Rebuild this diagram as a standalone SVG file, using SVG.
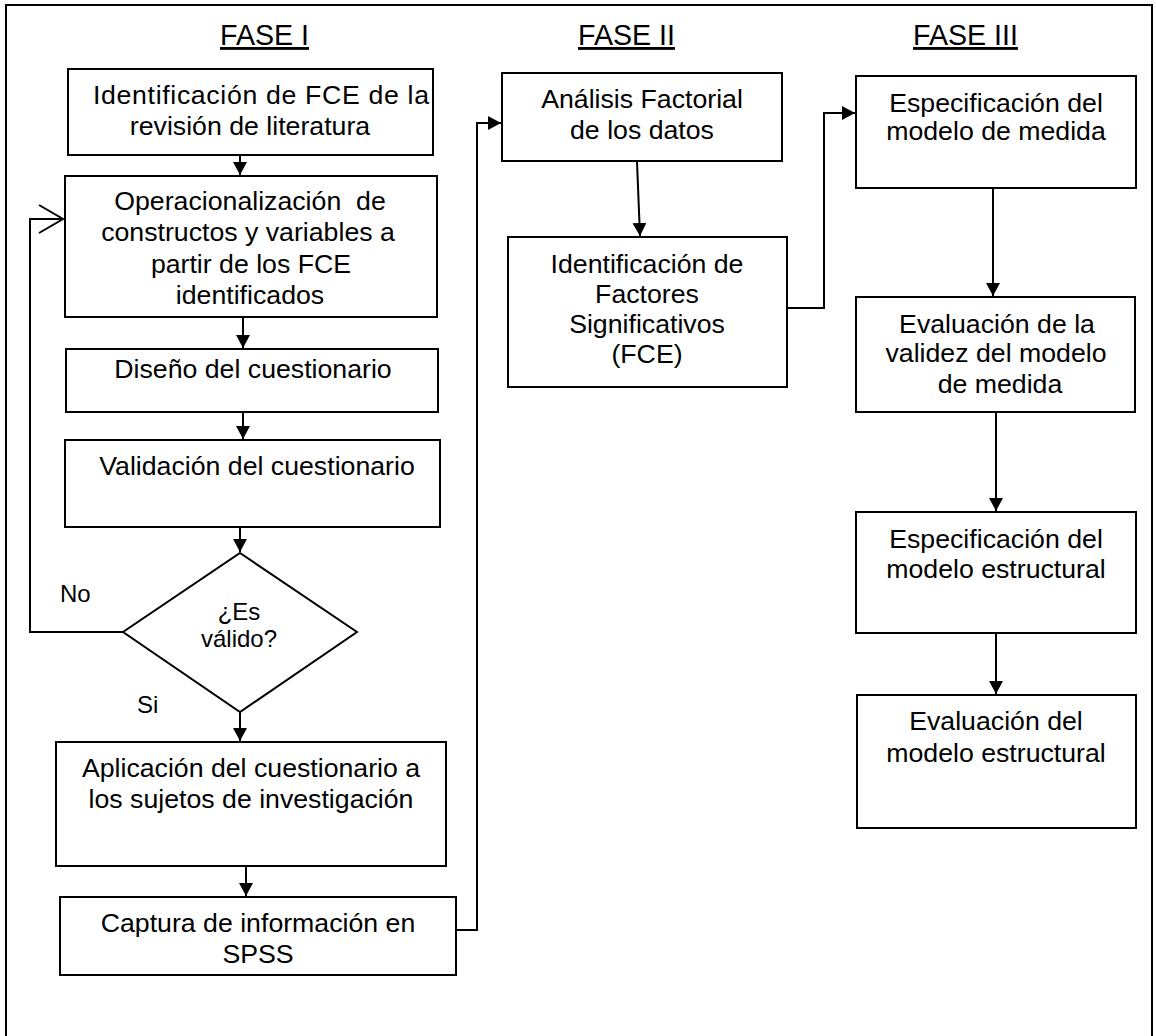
<svg xmlns="http://www.w3.org/2000/svg" width="1156" height="1036" viewBox="0 0 1156 1036">
<defs>
<marker id="ah" markerWidth="14" markerHeight="14" refX="13" refY="7" orient="auto" markerUnits="userSpaceOnUse">
<path d="M0,0 L13,7 L0,14 Z" fill="#000"/>
</marker>
<style>
.box{fill:#fff;stroke:#000;stroke-width:2}
.t{font-family:"Liberation Sans",Arial,sans-serif;font-size:26.7px;fill:#000;text-anchor:middle}
.h{font-family:"Liberation Sans",Arial,sans-serif;font-size:28.6px;fill:#000;text-decoration:underline}
.s{font-family:"Liberation Sans",Arial,sans-serif;font-size:24px;fill:#000}
.c{fill:none;stroke:#000;stroke-width:2}
</style>
</defs>
<rect width="1156" height="1036" fill="#fff"/>
<path d="M6,1036 V5 H1152 V1036" fill="none" stroke="#000" stroke-width="2"/>
<g id="titles">
<text class="h" x="220" y="45">FASE I</text>
<text class="h" x="578" y="45">FASE II</text>
<text class="h" x="913" y="45">FASE III</text>
</g>
<g id="connectors">
<path class="c" d="M240,156 V175" marker-end="url(#ah)"/>
<path class="c" d="M243,317 V348" marker-end="url(#ah)"/>
<path class="c" d="M243,412 V439" marker-end="url(#ah)"/>
<path class="c" d="M240,527 V552" marker-end="url(#ah)"/>
<path class="c" d="M123,632 H30 V219 H63"/>
<path class="c" d="M39,205 L63,219 L39,233"/>
<path class="c" d="M240,712 V741" marker-end="url(#ah)"/>
<path class="c" d="M246,866 V896" marker-end="url(#ah)"/>
<path class="c" d="M456,930 H477 V123 H501" marker-end="url(#ah)"/>
<path class="c" d="M637,162 L640,236" marker-end="url(#ah)"/>
<path class="c" d="M787,308 H824 V113 H855" marker-end="url(#ah)"/>
<path class="c" d="M993,188 V296" marker-end="url(#ah)"/>
<path class="c" d="M996,412 V511" marker-end="url(#ah)"/>
<path class="c" d="M996,633 V694" marker-end="url(#ah)"/>
<text class="s" x="60" y="602">No</text>
<text class="s" x="137" y="713">Si</text>
</g>
<g id="n1">
<rect class="box" x="68" y="69" width="365" height="86"/>
<text class="t" x="261" y="104" textLength="336" lengthAdjust="spacing">Identificación de FCE de la</text>
<text class="t" x="250" y="135">revisión de literatura</text>
</g>
<g id="n2">
<rect class="box" x="65" y="176" width="372" height="141"/>
<text class="t" x="250" y="210" xml:space="preserve">Operacionalización  de</text>
<text class="t" x="248" y="241">constructos y variables a</text>
<text class="t" x="251" y="273">partir de los FCE</text>
<text class="t" x="250" y="304">identificados</text>
</g>
<g id="n3">
<rect class="box" x="66" y="349" width="372" height="63"/>
<text class="t" x="253" y="378">Diseño del cuestionario</text>
</g>
<g id="n4">
<rect class="box" x="65" y="440" width="375" height="87"/>
<text class="t" x="257" y="475">Validación del cuestionario</text>
</g>
<g id="n5">
<polygon class="box" points="240,553 357,632 240,712 123,632"/>
<text class="s" x="239" y="620" text-anchor="middle">¿Es</text>
<text class="s" x="239" y="647" text-anchor="middle">válido?</text>
</g>
<g id="n6">
<rect class="box" x="56" y="742" width="390" height="124"/>
<text class="t" x="251" y="777">Aplicación del cuestionario a</text>
<text class="t" x="251" y="808">los sujetos de investigación</text>
</g>
<g id="n7">
<rect class="box" x="60" y="897" width="396" height="78"/>
<text class="t" x="258" y="932">Captura de información en</text>
<text class="t" x="258" y="963">SPSS</text>
</g>
<g id="n8">
<rect class="box" x="502" y="73" width="280" height="88"/>
<text class="t" x="642" y="108">Análisis Factorial</text>
<text class="t" x="642" y="139">de los datos</text>
</g>
<g id="n9">
<rect class="box" x="508" y="237" width="279" height="150"/>
<text class="t" x="647" y="273">Identificación de</text>
<text class="t" x="647" y="303">Factores</text>
<text class="t" x="647" y="333">Significativos</text>
<text class="t" x="647" y="363">(FCE)</text>
</g>
<g id="n10">
<rect class="box" x="856" y="76" width="280" height="112"/>
<text class="t" x="996" y="112">Especificación del</text>
<text class="t" x="996" y="140">modelo de medida</text>
</g>
<g id="n11">
<rect class="box" x="856" y="297" width="279" height="115"/>
<text class="t" x="997" y="333">Evaluación de la</text>
<text class="t" x="996" y="362">validez del modelo</text>
<text class="t" x="1000" y="393">de medida</text>
</g>
<g id="n12">
<rect class="box" x="856" y="512" width="280" height="121"/>
<text class="t" x="996" y="548">Especificación del</text>
<text class="t" x="996" y="578">modelo estructural</text>
</g>
<g id="n13">
<rect class="box" x="857" y="695" width="279" height="133"/>
<text class="t" x="996" y="730">Evaluación del</text>
<text class="t" x="996" y="762">modelo estructural</text>
</g>
</svg>
